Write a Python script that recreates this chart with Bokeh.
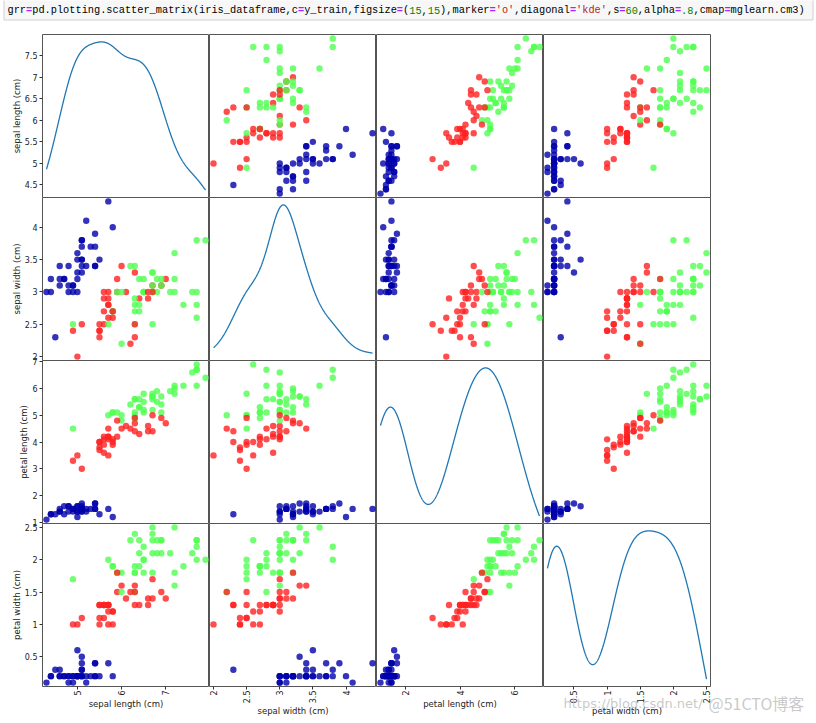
import math
import numpy as np
from bokeh.plotting import figure
from bokeh.layouts import column, row
from bokeh.models import Range1d, FixedTicker
from bokeh.core.properties import value
from bokeh.embed import file_html
from bokeh.resources import INLINE

# ---------------- data (iris) ----------------
feature_names = ["sepal length (cm)", "sepal width (cm)", "petal length (cm)", "petal width (cm)"]

sepal_length = [5.1, 4.9, 4.7, 4.6, 5.0, 5.4, 4.6, 5.0, 4.4, 4.9, 5.4, 4.8, 4.8, 4.3, 5.8, 5.7, 5.4, 5.1, 5.7, 5.1,
                5.4, 5.1, 4.6, 5.1, 4.8, 5.0, 5.0, 5.2, 5.2, 4.7, 4.8, 5.4, 5.2, 5.5, 4.9, 5.0, 5.5, 4.9, 4.4, 5.1,
                5.0, 4.5, 4.4, 5.0, 5.1, 4.8, 5.1, 4.6, 5.3, 5.0,
                7.0, 6.4, 6.9, 5.5, 6.5, 5.7, 6.3, 4.9, 6.6, 5.2, 5.0, 5.9, 6.0, 6.1, 5.6, 6.7, 5.6, 5.8, 6.2, 5.6,
                5.9, 6.1, 6.3, 6.1, 6.4, 6.6, 6.8, 6.7, 6.0, 5.7, 5.5, 5.5, 5.8, 6.0, 5.4, 6.0, 6.7, 6.3, 5.6, 5.5,
                5.5, 6.1, 5.8, 5.0, 5.6, 5.7, 5.7, 6.2, 5.1, 5.7,
                6.3, 5.8, 7.1, 6.3, 6.5, 7.6, 4.9, 7.3, 6.7, 7.2, 6.5, 6.4, 6.8, 5.7, 5.8, 6.4, 6.5, 7.7, 7.7, 6.0,
                6.9, 5.6, 7.7, 6.3, 6.7, 7.2, 6.2, 6.1, 6.4, 7.2, 7.4, 7.9, 6.4, 6.3, 6.1, 7.7, 6.3, 6.4, 6.0, 6.9,
                6.7, 6.9, 5.8, 6.8, 6.7, 6.7, 6.3, 6.5, 6.2, 5.9]

sepal_width = [3.5, 3.0, 3.2, 3.1, 3.6, 3.9, 3.4, 3.4, 2.9, 3.1, 3.7, 3.4, 3.0, 3.0, 4.0, 4.4, 3.9, 3.5, 3.8, 3.8,
               3.4, 3.7, 3.6, 3.3, 3.4, 3.0, 3.4, 3.5, 3.4, 3.2, 3.1, 3.4, 4.1, 4.2, 3.1, 3.2, 3.5, 3.6, 3.0, 3.4,
               3.5, 2.3, 3.2, 3.5, 3.8, 3.0, 3.8, 3.2, 3.7, 3.3,
               3.2, 3.2, 3.1, 2.3, 2.8, 2.8, 3.3, 2.4, 2.9, 2.7, 2.0, 3.0, 2.2, 2.9, 2.9, 3.1, 3.0, 2.7, 2.2, 2.5,
               3.2, 2.8, 2.5, 2.8, 2.9, 3.0, 2.8, 3.0, 2.9, 2.6, 2.4, 2.4, 2.7, 2.7, 3.0, 3.4, 3.1, 2.3, 3.0, 2.5,
               2.6, 3.0, 2.6, 2.3, 2.7, 3.0, 2.9, 2.9, 2.5, 2.8,
               3.3, 2.7, 3.0, 2.9, 3.0, 3.0, 2.5, 2.9, 2.5, 3.6, 3.2, 2.7, 3.0, 2.5, 2.8, 3.2, 3.0, 3.8, 2.6, 2.2,
               3.2, 2.8, 2.8, 2.7, 3.3, 3.2, 2.8, 3.0, 2.8, 3.0, 2.8, 3.8, 2.8, 2.8, 2.6, 3.0, 3.4, 3.1, 3.0, 3.1,
               3.1, 3.1, 2.7, 3.2, 3.3, 3.0, 2.5, 3.0, 3.4, 3.0]

petal_length = [1.4, 1.4, 1.3, 1.5, 1.4, 1.7, 1.4, 1.5, 1.4, 1.5, 1.5, 1.6, 1.4, 1.1, 1.2, 1.5, 1.3, 1.4, 1.7, 1.5,
                1.7, 1.5, 1.0, 1.7, 1.9, 1.6, 1.6, 1.5, 1.4, 1.6, 1.6, 1.5, 1.5, 1.4, 1.5, 1.2, 1.3, 1.4, 1.3, 1.5,
                1.3, 1.3, 1.3, 1.6, 1.9, 1.4, 1.6, 1.4, 1.5, 1.4,
                4.7, 4.5, 4.9, 4.0, 4.6, 4.5, 4.7, 3.3, 4.6, 3.9, 3.5, 4.2, 4.0, 4.7, 3.6, 4.4, 4.5, 4.1, 4.5, 3.9,
                4.8, 4.0, 4.9, 4.7, 4.3, 4.4, 4.8, 5.0, 4.5, 3.5, 3.8, 3.7, 3.9, 5.1, 4.5, 4.5, 4.7, 4.4, 4.1, 4.0,
                4.4, 4.6, 4.0, 3.3, 4.2, 4.2, 4.2, 4.3, 3.0, 4.1,
                6.0, 5.1, 5.9, 5.6, 5.8, 6.6, 4.5, 6.3, 5.8, 6.1, 5.1, 5.3, 5.5, 5.0, 5.1, 5.3, 5.5, 6.7, 6.9, 5.0,
                5.7, 4.9, 6.7, 4.9, 5.7, 6.0, 4.8, 4.9, 5.6, 5.8, 6.1, 6.4, 5.6, 5.1, 5.6, 6.1, 5.6, 5.5, 4.8, 5.4,
                5.6, 5.1, 5.1, 5.9, 5.7, 5.2, 5.0, 5.2, 5.4, 5.1]

petal_width = [0.2, 0.2, 0.2, 0.2, 0.2, 0.4, 0.3, 0.2, 0.2, 0.1, 0.2, 0.2, 0.1, 0.1, 0.2, 0.4, 0.4, 0.3, 0.3, 0.3,
               0.2, 0.4, 0.2, 0.5, 0.2, 0.2, 0.4, 0.2, 0.2, 0.2, 0.2, 0.4, 0.1, 0.2, 0.2, 0.2, 0.2, 0.1, 0.2, 0.2,
               0.3, 0.3, 0.2, 0.6, 0.4, 0.3, 0.2, 0.2, 0.2, 0.2,
               1.4, 1.5, 1.5, 1.3, 1.5, 1.3, 1.6, 1.0, 1.3, 1.4, 1.0, 1.5, 1.0, 1.4, 1.3, 1.4, 1.5, 1.0, 1.5, 1.1,
               1.8, 1.3, 1.5, 1.2, 1.3, 1.4, 1.4, 1.7, 1.5, 1.0, 1.1, 1.0, 1.2, 1.6, 1.5, 1.6, 1.5, 1.3, 1.3, 1.3,
               1.2, 1.4, 1.2, 1.0, 1.3, 1.2, 1.3, 1.3, 1.1, 1.3,
               2.5, 1.9, 2.1, 1.8, 2.2, 2.1, 1.7, 1.8, 1.8, 2.5, 2.0, 1.9, 2.1, 2.0, 2.4, 2.3, 1.8, 2.2, 2.3, 1.5,
               2.3, 2.0, 2.0, 1.8, 2.1, 1.8, 1.8, 1.8, 2.1, 1.6, 1.9, 2.0, 2.2, 1.5, 1.4, 2.3, 2.4, 1.8, 1.8, 2.1,
               2.4, 2.3, 1.9, 2.3, 2.5, 2.3, 1.9, 2.0, 2.3, 1.8]

species = [0] * 50 + [1] * 50 + [2] * 50

# rows used as the training set, in their order
train_order = [61, 92, 112, 2, 141, 43, 10, 60, 116, 144, 119, 108, 69, 135, 56, 80, 123, 133, 106, 146,
               50, 147, 85, 30, 101, 94, 64, 89, 91, 125, 48, 13, 111, 95, 20, 15, 52, 3, 149, 98,
               6, 68, 109, 96, 12, 102, 120, 104, 128, 46, 11, 110, 124, 41, 148, 1, 113, 139, 42, 4,
               129, 17, 38, 5, 53, 143, 105, 0, 34, 28, 55, 75, 35, 23, 74, 31, 118, 57, 131, 65,
               32, 138, 14, 122, 19, 29, 130, 49, 136, 99, 82, 79, 115, 145, 72, 77, 25, 81, 140, 142,
               39, 58, 88, 70, 87, 36, 21, 9, 103, 67, 117, 47]

class_colors = ["#0000aa", "#ff2020", "#50ff50"]   # mglearn.cm3

y_tick_values = [[4.5, 5.0, 5.5, 6.0, 6.5, 7.0, 7.5],
                 [2.0, 2.5, 3.0, 3.5, 4.0],
                 [1, 2, 3, 4, 5, 6, 7],
                 [0.5, 1.0, 1.5, 2.0, 2.5]]
x_tick_values = [[5, 6, 7],
                 [2.0, 2.5, 3.0, 3.5, 4.0],
                 [2, 4, 6],
                 [0.5, 1.0, 1.5, 2.0, 2.5]]

code_tokens = [("grr", "#000000"), ("=", "#aa22ff"), ("pd.plotting.scatter_matrix(iris_dataframe,c", "#000000"),
               ("=", "#aa22ff"), ("y_train,figsize", "#000000"), ("=", "#aa22ff"), ("(", "#000000"),
               ("15", "#008000"), (",", "#000000"), ("15", "#008000"), ("),marker", "#000000"), ("=", "#aa22ff"),
               ("'o'", "#ba2121"), (",diagonal", "#000000"), ("=", "#aa22ff"), ("'kde'", "#ba2121"),
               (",s", "#000000"), ("=", "#aa22ff"), ("60", "#008000"), (",alpha", "#000000"), ("=", "#aa22ff"),
               (".8", "#008000"), (",cmap", "#000000"), ("=", "#aa22ff"), ("mglearn.cm3)", "#000000")]

watermark_url = "https://blog.csdn.net/"
watermark_site = "@51CTO博客"

# ---------------- derived ----------------
cols = [np.asarray(c, dtype=float)[train_order] for c in (sepal_length, sepal_width, petal_length, petal_width)]
y_train = np.asarray(species)[train_order]
point_colors = [class_colors[c] for c in y_train]


def bounds(v):
    lo, hi = float(v.min()), float(v.max())
    pad = (hi - lo) * 0.05 / 2.0
    return lo - pad, hi + pad


def kde_curve(v):
    n = v.size
    bw = v.std(ddof=1) * n ** (-0.2)
    xs = np.linspace(v.min(), v.max(), 1000)
    z = (xs[:, None] - v[None, :]) / bw
    ys = np.exp(-0.5 * z * z).sum(axis=1) / (n * bw * math.sqrt(2 * math.pi))
    return xs, ys


PAGE_W = 816
FW, FH = 167, 163
LEFT, BOTTOM, RIGHT_EXTRA = 42, 30, 100
T, B = 7, 7          # transparent overlap strips so edge tick labels are not cut
HEADER_H = 34
FONT = "DejaVu Sans"


def style_axes(p):
    for ax in p.axis:
        ax.axis_line_color = None
        ax.major_tick_in = 0
        ax.major_tick_out = 3
        ax.major_tick_line_color = "#333333"
        ax.minor_tick_line_color = None
        ax.major_label_text_font = FONT
        ax.major_label_text_font_size = "8px"
        ax.major_label_text_color = "#222222"
        ax.axis_label_text_font = FONT
        ax.axis_label_text_font_size = "8.5px"
        ax.axis_label_text_font_style = "normal"
        ax.axis_label_text_color = "#222222"
    for ax in p.yaxis:
        ax.major_label_standoff = 2
        ax.axis_label_standoff = 0
    for ax in p.xaxis:
        ax.major_label_standoff = 1
        ax.axis_label_standoff = 0


rows = []
for i in range(4):
    figs = []
    for j in range(4):
        xb = bounds(cols[j])
        yb = bounds(cols[i])
        kw = dict(frame_width=FW, frame_height=FH, toolbar_location=None, output_backend="svg",
                  x_range=Range1d(*xb), min_border=0,
                  min_border_left=LEFT if j == 0 else 0,
                  min_border_top=T if i > 0 else 0,
                  min_border_bottom=BOTTOM if i == 3 else B,
                  min_border_right=RIGHT_EXTRA if j == 3 else 0,
                  x_axis_location="below" if i == 3 else None,
                  y_axis_location="left" if j == 0 else None,
                  background_fill_color="white", border_fill_alpha=0)
        if i == j:
            xs, ys = kde_curve(cols[i])
            lo, hi = float(ys.min()), float(ys.max())
            m = 0.05 * (hi - lo)
            krange = Range1d(lo - m, hi + m)
            if j == 0:
                p = figure(y_range=Range1d(*yb), **kw)
                p.extra_y_ranges = {"kde": krange}
                p.line(xs, ys, y_range_name="kde", line_color="#1f77b4", line_width=1.3)
            else:
                p = figure(y_range=krange, **kw)
                p.line(xs, ys, line_color="#1f77b4", line_width=1.3)
        else:
            p = figure(y_range=Range1d(*yb), **kw)
            p.scatter(cols[j], cols[i], size=6.4, fill_color=point_colors, fill_alpha=0.8, line_color=None)
        p.grid.grid_line_color = None
        p.outline_line_color = "#555555"
        p.outline_line_width = 1
        if j == 0:
            p.yaxis.ticker = FixedTicker(ticks=y_tick_values[i])
            p.yaxis.axis_label = feature_names[i]
        if i == 3:
            p.xaxis.ticker = FixedTicker(ticks=x_tick_values[j])
            p.xaxis.axis_label = feature_names[j]
            p.xaxis.major_label_orientation = math.pi / 2
        style_axes(p)
        figs.append(p)
    if i == 0:
        rows.append(row(*figs, spacing=0))
    else:
        rows.append(row(*figs, spacing=0, margin=(-(T + B), 0, 0, 0)))

# ---------------- header (code cell) ----------------
hdr = figure(frame_width=PAGE_W, frame_height=HEADER_H, x_range=Range1d(0, PAGE_W), y_range=Range1d(0, HEADER_H),
             toolbar_location=None, output_backend="svg", min_border=0,
             x_axis_location=None, y_axis_location=None, outline_line_color=None,
             background_fill_color="white", border_fill_color="white")
hdr.grid.grid_line_color = None
hdr.quad(left=[3.5], right=[PAGE_W - 3.5], top=[HEADER_H + 1], bottom=[HEADER_H - 19.5],
         fill_color="#f7f7f7", line_color="#cfcfcf", line_width=1)
CFS = 10.3
cw = 0.6 * CFS
tx, tt, tc, ex, et, ec = [], [], [], [], [], []
pos = 0
for t, c in code_tokens:
    x = 7 + pos * cw
    if t == "=":
        ex.append(x); et.append(t); ec.append(c)
    else:
        tx.append(x); tt.append(t); tc.append(c)
    pos += len(t)
TY = HEADER_H - 9.5
hdr.text(x=tx, y=[TY] * len(tx), text=tt, text_color=tc, text_font=value("Liberation Mono"),
         text_font_size=f"{CFS}px", text_baseline="middle", text_align="left")
hdr.text(x=ex, y=[TY] * len(ex), text=et, text_color=ec, text_font=value("Liberation Mono"),
         text_font_size=f"{CFS}px", text_font_style="bold", text_baseline="middle", text_align="left")

# ---------------- watermark overlay (transparent strip over the bottom axis area) ----------------
WM_H = 36
wm = figure(frame_width=PAGE_W, frame_height=WM_H, x_range=Range1d(0, PAGE_W), y_range=Range1d(0, WM_H),
            toolbar_location=None, output_backend="svg", min_border=0,
            x_axis_location=None, y_axis_location=None, outline_line_color=None,
            background_fill_alpha=0, border_fill_alpha=0, margin=(-WM_H, 0, 0, 0))
wm.grid.grid_line_color = None
WY = 16.5
wm.text(x=[563], y=[WY], text=[watermark_url], text_color="#c0c0c0", text_alpha=0.85,
        text_font=value(FONT), text_font_size="13px", text_baseline="middle")
wm.text(x=[708], y=[WY], text=[watermark_site], text_color="#c0c0c0", text_alpha=0.85,
        text_font=value("Noto Sans CJK SC"), text_font_size="16px", text_baseline="middle")

layout = column(hdr, *rows, wm, spacing=0)
open("out.html", "w").write(file_html(layout, INLINE))
